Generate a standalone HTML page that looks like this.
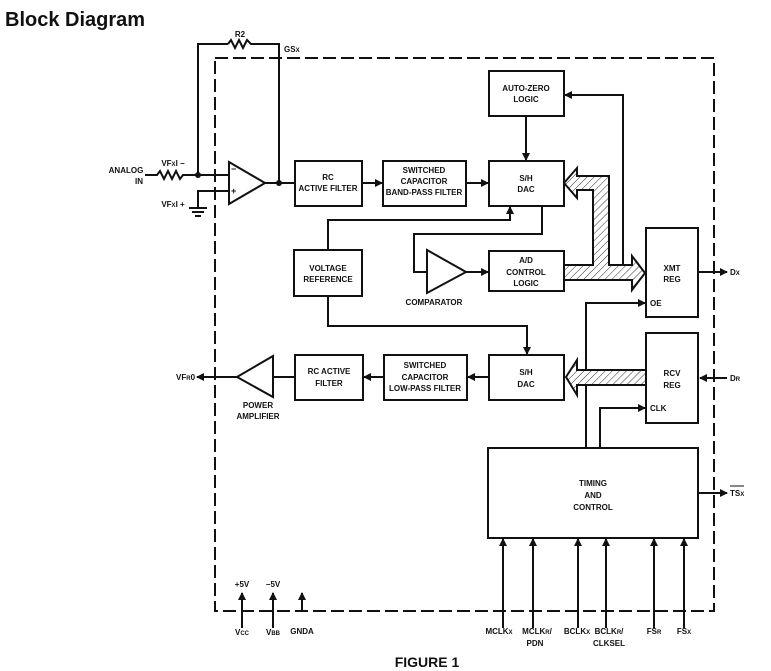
<!DOCTYPE html>
<html><head><meta charset="utf-8"><style>
html,body{margin:0;padding:0;background:#fff;}
svg{display:block;}
text{font-family:"Liberation Sans",sans-serif;fill:#111;}
.s{font-size:8px;font-weight:bold;}
</style></head><body>
<svg width="771" height="671" viewBox="0 0 771 671" xmlns="http://www.w3.org/2000/svg">
<defs>
<marker id="a" markerWidth="8" markerHeight="8" refX="7" refY="4" orient="auto" markerUnits="userSpaceOnUse"><path d="M0,0 L8,4 L0,8 z" fill="#111"/></marker>
<pattern id="h" width="5" height="5" patternUnits="userSpaceOnUse" patternTransform="rotate(45)"><rect width="5" height="5" fill="#fff"/><line x1="0" y1="0" x2="0" y2="5" stroke="#333" stroke-width="1"/></pattern>
</defs>
<text x="5" y="26" font-size="20" font-weight="bold" style="font-weight:bold">Block Diagram</text>

<rect x="215" y="58" width="499" height="553" fill="none" stroke="#111" stroke-width="2" stroke-dasharray="13,5"/>

<g stroke="#111" stroke-width="2" fill="none">
<polyline points="198,175 198,44 228,44"/>
<polyline points="228,44 231,40 235,48 239,40 243,48 247,40 251,44 279,44 279,183"/>
<polyline points="145,175 157,175 160,171 164,179 168,171 172,179 176,171 180,179 183,175 229,175"/>
<polyline points="198,208 198,191 229,191"/>
<line x1="189" y1="208" x2="207" y2="208"/><line x1="192" y1="212" x2="204" y2="212"/><line x1="195" y1="216" x2="201" y2="216"/>
<polygon points="229,162 229,204 265,183" fill="#fff"/>
<line x1="265" y1="183" x2="295" y2="183"/>
<rect x="295" y="161" width="67" height="45"/>
<line x1="362" y1="183" x2="382" y2="183" marker-end="url(#a)"/>
<rect x="383" y="161" width="83" height="45"/>
<line x1="466" y1="183" x2="488" y2="183" marker-end="url(#a)"/>
<rect x="489" y="71" width="75" height="45"/>
<rect x="489" y="161" width="75" height="45"/>
<line x1="526" y1="116" x2="526" y2="160" marker-end="url(#a)"/>
<polyline points="623,265 623,95 565,95" marker-end="url(#a)"/>
<rect x="294" y="250" width="68" height="46"/>
<polyline points="328,250 328,220 510,220 510,207" marker-end="url(#a)"/>
<polyline points="328,296 328,326 527,326 527,354" marker-end="url(#a)"/>
<polyline points="542,206 542,234 414,234 414,272 428,272"/>
<polygon points="427,250 427,293 466,272" fill="#fff"/>
<line x1="466" y1="272" x2="488" y2="272" marker-end="url(#a)"/>
<rect x="489" y="251" width="75" height="40"/>
<rect x="646" y="228" width="52" height="89"/>
<line x1="698" y1="272" x2="727" y2="272" marker-end="url(#a)"/>
<rect x="646" y="333" width="52" height="90"/>
<line x1="727" y1="378" x2="700" y2="378" marker-end="url(#a)"/>
<polyline points="586,448 586,303 645,303" marker-end="url(#a)"/>
<polyline points="600,448 600,408 645,408" marker-end="url(#a)"/>
<rect x="489" y="355" width="75" height="45"/>
<rect x="384" y="355" width="83" height="45"/>
<rect x="295" y="355" width="68" height="45"/>
<line x1="489" y1="377" x2="468" y2="377" marker-end="url(#a)"/>
<line x1="384" y1="377" x2="364" y2="377" marker-end="url(#a)"/>
<line x1="295" y1="377" x2="273" y2="377"/>
<polygon points="237,377 273,356 273,397" fill="#fff"/>
<line x1="237" y1="377" x2="197" y2="377" marker-end="url(#a)"/>
<rect x="488" y="448" width="210" height="90"/>
<line x1="698" y1="493" x2="727" y2="493" marker-end="url(#a)"/>
<polygon points="564,183 577,168 577,176 609,176 609,265 632,265 632,256 645,273 632,290 632,280 564,280 564,265 593,265 593,190 577,190 577,198" fill="url(#h)"/>
<polygon points="566,377 577,360 577,370 646,370 646,385 577,385 577,395" fill="url(#h)"/>
<line x1="242" y1="628" x2="242" y2="593" marker-end="url(#a)"/>
<line x1="273" y1="628" x2="273" y2="593" marker-end="url(#a)"/>
<line x1="302" y1="611" x2="302" y2="593" marker-end="url(#a)"/>
<line x1="503" y1="628" x2="503" y2="539" marker-end="url(#a)"/>
<line x1="533" y1="628" x2="533" y2="539" marker-end="url(#a)"/>
<line x1="578" y1="628" x2="578" y2="539" marker-end="url(#a)"/>
<line x1="606" y1="628" x2="606" y2="539" marker-end="url(#a)"/>
<line x1="654" y1="628" x2="654" y2="539" marker-end="url(#a)"/>
<line x1="684" y1="628" x2="684" y2="539" marker-end="url(#a)"/>
</g>
<circle cx="198" cy="175" r="3" fill="#111"/>
<circle cx="279" cy="183" r="3" fill="#111"/>
<text x="231" y="172" font-size="9" font-weight="bold">−</text>
<text x="231" y="194" font-size="9" font-weight="bold">+</text>

<g class="s" text-anchor="middle">
<text x="240" y="37">R2</text>
<text x="126" y="173">ANALOG</text><text x="139" y="184">IN</text>
<text x="173" y="166">VF<tspan font-size="6">X</tspan>I −</text>
<text x="173" y="207">VF<tspan font-size="6">X</tspan>I +</text>
<text x="328" y="180">RC</text><text x="328" y="191">ACTIVE FILTER</text>
<text x="424" y="173">SWITCHED</text><text x="424" y="184">CAPACITOR</text><text x="424" y="195">BAND-PASS FILTER</text>
<text x="526" y="91">AUTO-ZERO</text><text x="526" y="102">LOGIC</text>
<text x="526" y="181">S/H</text><text x="526" y="192">DAC</text>
<text x="328" y="271">VOLTAGE</text><text x="328" y="282">REFERENCE</text>
<text x="434" y="305">COMPARATOR</text>
<text x="526" y="263">A/D</text><text x="526" y="275">CONTROL</text><text x="526" y="286">LOGIC</text>
<text x="672" y="271">XMT</text><text x="672" y="282">REG</text>
<text x="672" y="376">RCV</text><text x="672" y="388">REG</text>
<text x="526" y="375">S/H</text><text x="526" y="387">DAC</text>
<text x="425" y="368">SWITCHED</text><text x="425" y="380">CAPACITOR</text><text x="425" y="391">LOW-PASS FILTER</text>
<text x="329" y="374">RC ACTIVE</text><text x="329" y="386">FILTER</text>
<text x="258" y="408">POWER</text><text x="258" y="419">AMPLIFIER</text>
<text x="593" y="486">TIMING</text><text x="593" y="498">AND</text><text x="593" y="510">CONTROL</text>
<text x="242" y="587">+5V</text><text x="273" y="587">−5V</text>
<text x="242" y="635">V<tspan font-size="6">CC</tspan></text><text x="273" y="635">V<tspan font-size="6">BB</tspan></text><text x="302" y="634">GNDA</text>
<text x="499" y="634">MCLK<tspan font-size="6">X</tspan></text>
<text x="537" y="634">MCLK<tspan font-size="6">R</tspan>/</text><text x="535" y="646">PDN</text>
<text x="577" y="634">BCLK<tspan font-size="6">X</tspan></text>
<text x="609" y="634">BCLK<tspan font-size="6">R</tspan>/</text><text x="609" y="646">CLKSEL</text>
<text x="654" y="634">FS<tspan font-size="6">R</tspan></text>
<text x="684" y="634">FS<tspan font-size="6">X</tspan></text>
</g>
<g class="s">
<text x="284" y="52">GS<tspan font-size="6">X</tspan></text>
<text x="650" y="306">OE</text>
<text x="650" y="411">CLK</text>
<text x="730" y="275">D<tspan font-size="6">X</tspan></text>
<text x="730" y="381">D<tspan font-size="6">R</tspan></text>
<text x="730" y="496">TS<tspan font-size="6">X</tspan></text>
<text x="176" y="380">VF<tspan font-size="6">R</tspan>0</text>
</g>
<line x1="730" y1="486" x2="744" y2="486" stroke="#111" stroke-width="1"/>
<text x="427" y="667" font-size="14" font-weight="bold" text-anchor="middle">FIGURE 1</text>
</svg>
</body></html>
